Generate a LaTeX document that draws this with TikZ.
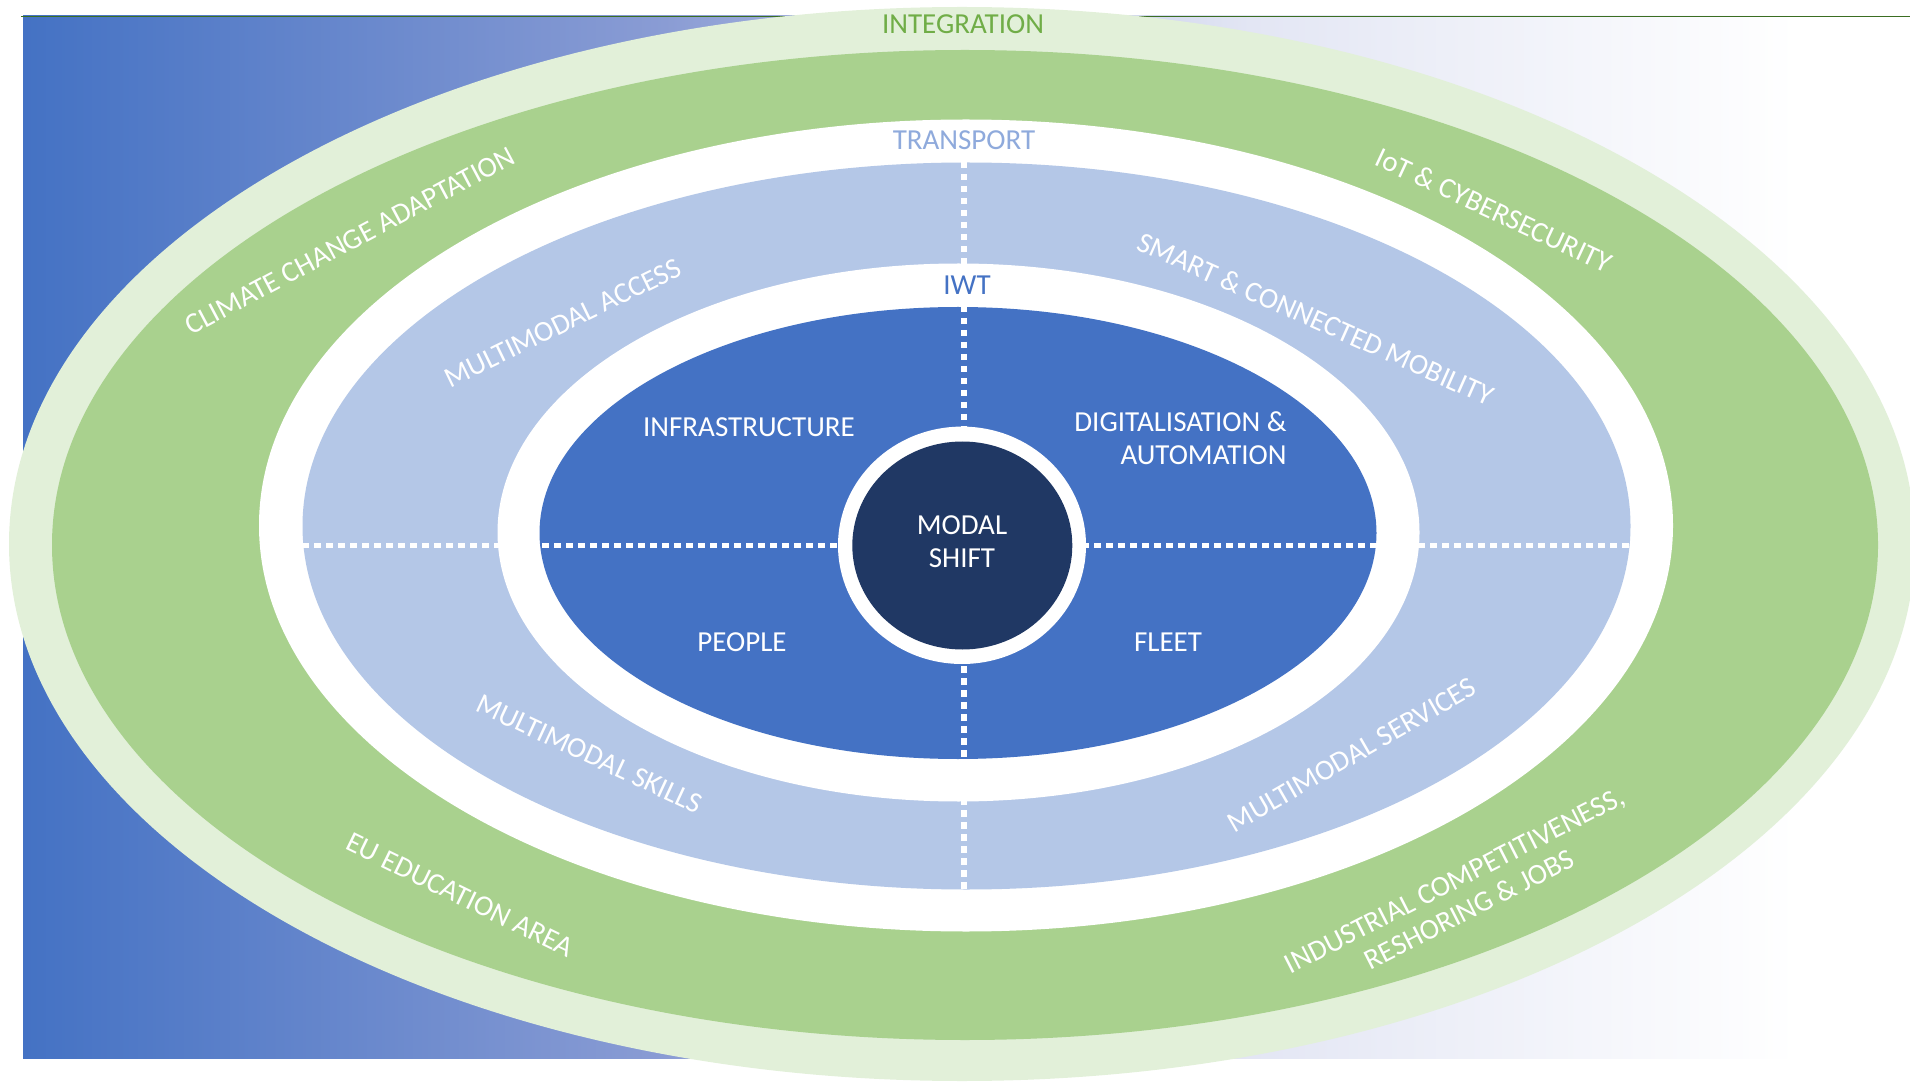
\documentclass[tikz,border=0pt]{standalone}
\usepackage{fontspec}
\setmainfont{Carlito}
\definecolor{bgblue}{HTML}{4472C4}
\definecolor{bgmidA}{HTML}{8A9CD4}
\definecolor{bgmidB}{HTML}{E3E6F4}
\definecolor{lgreen}{HTML}{E2F0D9}
\definecolor{mgreen}{HTML}{A9D18E}
\definecolor{tgreen}{HTML}{70AD47}
\definecolor{lblue}{HTML}{B4C7E7}
\definecolor{tblue}{HTML}{8FAADC}
\definecolor{navy}{HTML}{203864}
\definecolor{topline}{HTML}{3B6E22}
\pgfdeclarehorizontalshading{bgshade}{100bp}{color(0bp)=(bgblue); color(25bp)=(bgblue); color(42bp)=(bgmidA); color(57.5bp)=(bgmidB); color(72bp)=(white); color(100bp)=(white)}
\begin{document}
\begin{tikzpicture}[x=0.5pt,y=0.5pt,
  lab/.style={font=\fontsize{14.5}{16.5}\selectfont, text=white, inner sep=0pt, align=center},
  dotline/.style={white, line width=2.65pt, dash pattern=on 3.25pt off 2.75pt}]
\useasboundingbox (0,0) rectangle (1910,1083);
\clip (0,0) rectangle (1910,1083);
% background gradient
\shade[shading=bgshade] (23,25) rectangle (1910,1067);
\draw[topline, line width=0.6pt] (21,1066.6) -- (1910,1066.6);
% rings
\fill[lgreen] (962,539) ellipse [x radius=953, y radius=537];
\fill[mgreen] (965,538) ellipse [x radius=913, y radius=495];
\fill[white] (966,557.5) ellipse [x radius=707, y radius=406];
\fill[lblue] (966.5,557) ellipse [x radius=664, y radius=363.5];
\fill[white] (958.5,550.5) ellipse [x radius=461, y radius=269];
\fill[bgblue] (958,550) ellipse [x radius=418.5, y radius=226];
% dotted dividers
\coordinate (hl) at (302,537.3);
\coordinate (hr) at (1631,537.3);
\coordinate (vt) at (964,921);
\coordinate (vb) at (964,194);
\draw[dotline] (hl) -- (hr);
\draw[dotline] (vt) -- (vb);
% centre
\fill[white] (962,537.7) ellipse [x radius=124, y radius=118.7];
\fill[navy] (962.3,537.5) ellipse [x radius=110, y radius=104];
% labels
\node[lab, text=tgreen] (integ) at (963,1059.3) {INTEGRATION};
\node[lab, text=tblue] (transp) at (964,943) {TRANSPORT};
\node[lab, text=bgblue] (iwt) at (967,798) {IWT};
\node[lab] (modal) at (962,541.5) {MODAL\\SHIFT};
\node[lab] (infra) at (749,655.5) {INFRASTRUCTURE};
\node[lab, align=right, anchor=east] (digi) at (1287,644.3) {DIGITALISATION \&\\AUTOMATION};
\node[lab] (people) at (742,441) {PEOPLE};
\node[lab] (fleet) at (1168,441) {FLEET};
\node[lab, rotate=26] (maccess) at (563,760) {MULTIMODAL ACCESS};
\node[lab, rotate=-24] (smart) at (1316,764) {SMART \& CONNECTED MOBILITY};
\node[lab, rotate=-25] (mskills) at (589.5,329) {MULTIMODAL SKILLS};
\node[lab, rotate=30] (mserv) at (1352,328) {MULTIMODAL SERVICES};
\node[lab, rotate=28] (climate) at (350,842) {CLIMATE CHANGE ADAPTATION};
\node[lab, rotate=-25] (iot) at (1494,873) {IoT \& CYBERSECURITY};
\node[lab, rotate=-26] (edu) at (460,188) {EU EDUCATION AREA};
\node[lab, rotate=27] (indus) at (1462,188) {INDUSTRIAL COMPETITIVENESS,\\RESHORING \& JOBS};
\end{tikzpicture}
\end{document}
